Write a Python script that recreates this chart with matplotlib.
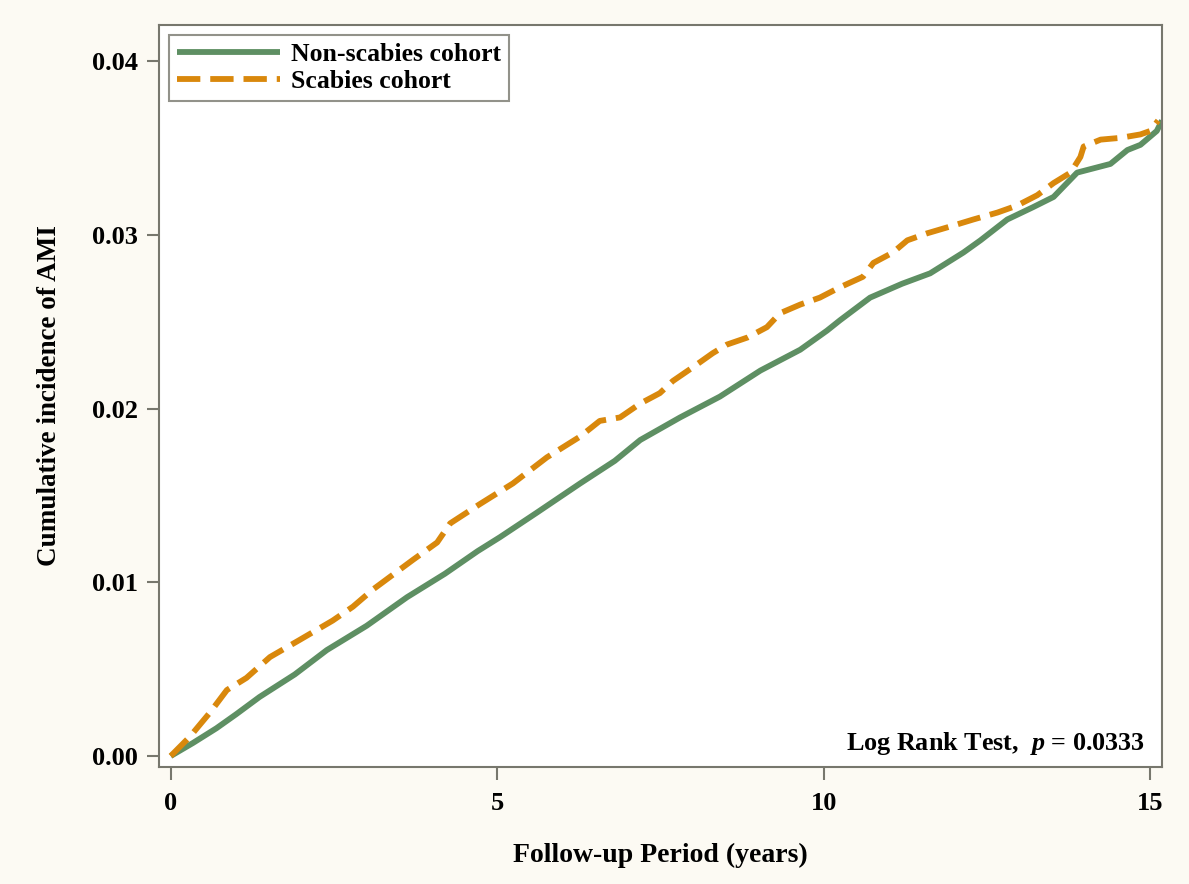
import matplotlib
matplotlib.use("Agg")
import matplotlib.pyplot as plt

# cumulative incidence
non_years = [0.0, 0.34, 0.7, 1.0, 1.36, 1.9, 2.39, 3.0, 3.62, 4.2, 4.7, 5.04, 5.6,
             6.27, 6.8, 7.19, 7.8, 8.41, 9.03, 9.64, 10.05, 10.25, 10.71, 11.2,
             11.63, 12.14, 12.4, 12.81, 13.2, 13.52, 13.88, 14.39, 14.65, 14.85,
             15.1, 15.18]
non_cif = [0.0, 0.00075, 0.0016, 0.0024, 0.0034, 0.0047, 0.0061, 0.0075, 0.00915,
           0.0105, 0.0118, 0.0126, 0.0140, 0.0157, 0.0170, 0.0182, 0.0195, 0.0207,
           0.0222, 0.0234, 0.0245, 0.0251, 0.0264, 0.0272, 0.0278, 0.0290, 0.0297,
           0.0309, 0.0316, 0.0322, 0.0336, 0.0341, 0.0349, 0.0352, 0.0360, 0.0366]

sca_years = [0.0, 0.29, 0.6, 0.86, 1.16, 1.52, 1.98, 2.48, 2.79, 3.1, 3.71, 4.08,
             4.28, 4.73, 5.24, 5.76, 6.27, 6.57, 6.88, 7.19, 7.49, 7.69, 8.0, 8.3,
             8.52, 8.83, 9.13, 9.33, 9.64, 9.94, 10.25, 10.6, 10.76, 11.06, 11.28,
             11.58, 11.94, 12.29, 12.66, 12.96, 13.27, 13.52, 13.78, 13.93, 13.98,
             14.24, 14.54, 14.85, 15.0, 15.12]
sca_cif = [0.0, 0.0011, 0.0025, 0.0038, 0.0045, 0.0057, 0.0067, 0.0078, 0.0086,
           0.0096, 0.0113, 0.0123, 0.0134, 0.0145, 0.0157, 0.0172, 0.0184, 0.0193,
           0.0195, 0.0203, 0.0209, 0.0216, 0.0224, 0.0232, 0.0237, 0.0241, 0.0247,
           0.0255, 0.0260, 0.0264, 0.0270, 0.0276, 0.0284, 0.0290, 0.0297, 0.0301,
           0.0305, 0.0309, 0.0313, 0.0317, 0.0323, 0.0330, 0.0336, 0.0345, 0.0351,
           0.0355, 0.0356, 0.0358, 0.0360, 0.0366]

x_ticks = [0, 5, 10, 15]
y_ticks = [0.00, 0.01, 0.02, 0.03, 0.04]

plt.rcParams['font.family'] = ['Liberation Serif', 'DejaVu Serif']
plt.rcParams['font.weight'] = 'bold'
plt.rcParams['mathtext.fontset'] = 'custom'
plt.rcParams['mathtext.it'] = 'Liberation Serif:italic'
plt.rcParams['mathtext.rm'] = 'Liberation Serif:bold'

edge = '#77776d'
green = '#5e8f63'
orange = '#d9880c'

fig = plt.figure(figsize=(11.89, 8.84), dpi=100, facecolor='#fcfaf3')
ax = fig.add_axes([0.1337, 0.1324, 0.8436, 0.8393])
ax.set_facecolor('white')

ax.plot(non_years, non_cif, color=green, lw=4.2, label='Non-scabies cohort',
        solid_capstyle='butt')
ax.plot(sca_years, sca_cif, color=orange, lw=4.2, ls=(0, (4.0, 1.7)),
        label='Scabies cohort')

ax.set_xlim(-0.18, 15.18)
ax.set_ylim(-0.00063, 0.0421)
ax.set_xticks(x_ticks)
ax.set_xticklabels([str(t) for t in x_ticks])
ax.set_yticks(y_ticks)
ax.set_yticklabels(['%.2f' % t for t in y_ticks])

for s in ax.spines.values():
    s.set_color(edge)
    s.set_linewidth(1.5)
ax.tick_params(length=9, width=1.5, color=edge, labelsize=19, pad=6)
ax.tick_params(axis='x', pad=9)

ax.set_xlabel('Follow-up Period (years)', fontsize=20, fontweight='bold', labelpad=20)
ax.set_ylabel('Cumulative incidence of AMI', fontsize=19.5, fontweight='bold', labelpad=22)

leg = ax.legend(loc='upper left', fontsize=18.5, frameon=True, fancybox=False,
                borderpad=0.3, handlelength=4.0, handletextpad=0.45,
                labelspacing=0.15, borderaxespad=0.4)
leg.get_frame().set_edgecolor(edge)
leg.get_frame().set_linewidth(1.5)

ax.text(0.983, 0.013, r'Log Rank Test,  $\mathit{p}$ = 0.0333', transform=ax.transAxes,
        ha='right', va='bottom', fontsize=18.8, fontweight='bold')

fig.savefig('out.png', dpi=100, facecolor=fig.get_facecolor())
